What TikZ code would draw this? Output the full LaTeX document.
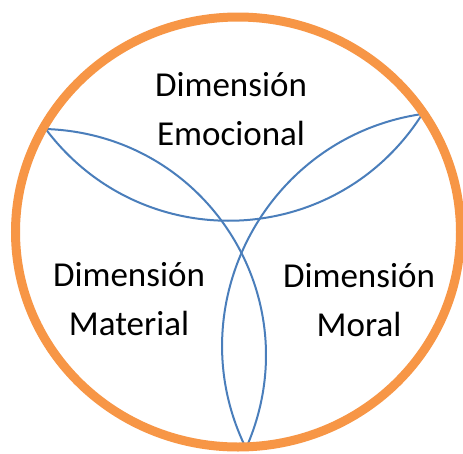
\documentclass[tikz,border=0pt]{standalone}
\usepackage{fontspec}
\setmainfont{Carlito}
\definecolor{ringorange}{HTML}{F79646}
\definecolor{arcblue}{HTML}{4A7EBB}
\begin{document}
\begin{tikzpicture}[x=1pt,y=-1pt,
  ring/.style={draw=ringorange,line width=9pt},
  petal/.style={draw=arcblue,line width=2pt},
  label/.style={align=center,inner sep=0pt,anchor=base,font=\fontsize{35}{49}\selectfont}]
\useasboundingbox (0,0) rectangle (463,453);
\fill[white] (0,0) rectangle (463,453);
\coordinate (L) at (45.7,129);
\coordinate (R) at (422.3,114);
\coordinate (B) at (246,448.3);
\draw[petal] (L) to[bend right=55.35,looseness=1.09] (R);
\draw[petal] (L) to[bend left=56,looseness=1.1] (B);
\draw[petal] (R) to[bend right=54,looseness=1.07] (B);
\draw[ring] (238,232) ellipse [x radius=222.5,y radius=215];
\node[label] (emo) at (231,145) {Dimensión\\Emocional};
\node[label] (mat) at (129,335.5) {Dimensión\\Material};
\node[label] (mor) at (359,336) {Dimensión\\Moral};
\end{tikzpicture}
\end{document}
